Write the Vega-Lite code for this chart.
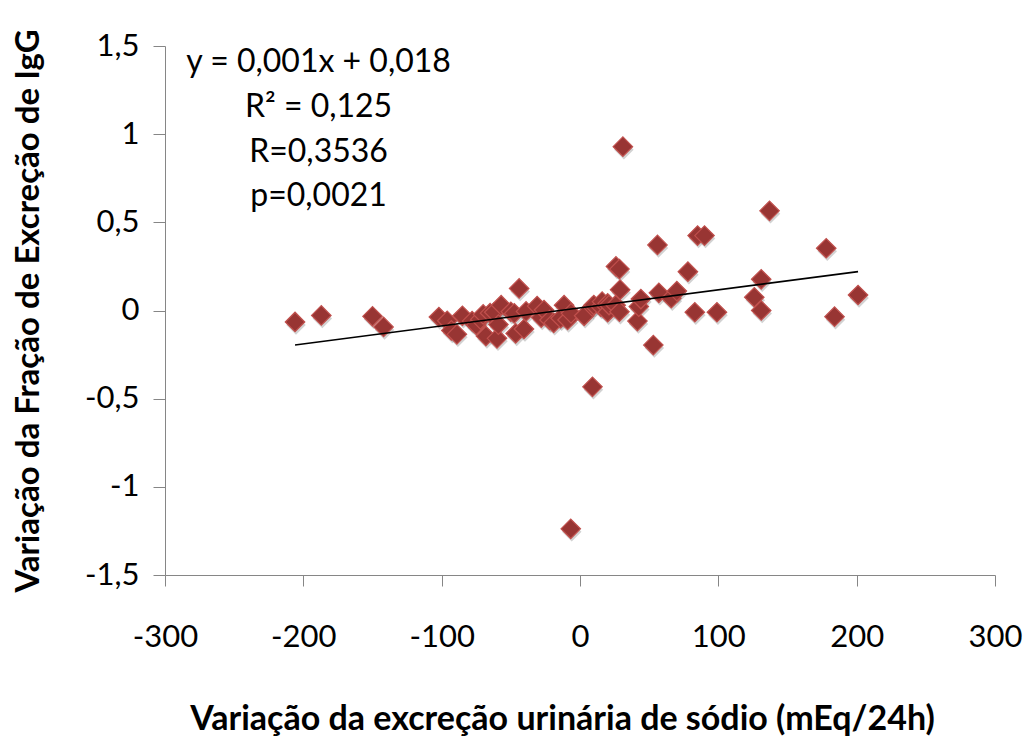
{
  "$schema": "https://vega.github.io/schema/vega-lite/v6.json",
  "width": 830,
  "height": 529,
  "autosize": {"type": "none"},
  "padding": {"left": 165, "top": 46, "right": 35, "bottom": 161},
  "background": "white",
  "config": {"view": {"stroke": null}, "font": "Lato"},
  "datasets": {
    "points": [
      {"x": -206, "y": -0.065}, {"x": -187, "y": -0.028}, {"x": -150, "y": -0.033}, {"x": -142, "y": -0.093},
      {"x": -102, "y": -0.037}, {"x": -96, "y": -0.058}, {"x": -93, "y": -0.113}, {"x": -89, "y": -0.135},
      {"x": -85, "y": -0.03}, {"x": -78, "y": -0.06}, {"x": -75, "y": -0.082}, {"x": -72, "y": -0.05},
      {"x": -70, "y": -0.022}, {"x": -68, "y": -0.145}, {"x": -65, "y": -0.015}, {"x": -62, "y": -0.01},
      {"x": -60, "y": -0.158}, {"x": -59, "y": -0.08}, {"x": -57, "y": 0.03}, {"x": -50, "y": -0.007},
      {"x": -47.5, "y": -0.016}, {"x": -46.5, "y": -0.13}, {"x": -44, "y": 0.125}, {"x": -40.5, "y": -0.105},
      {"x": -39, "y": -0.005}, {"x": -31, "y": 0.025}, {"x": -28, "y": -0.04}, {"x": -26, "y": 0.003},
      {"x": -22, "y": -0.054}, {"x": -19, "y": -0.07}, {"x": -14, "y": -0.044}, {"x": -11.5, "y": 0.03},
      {"x": -9, "y": -0.054}, {"x": -6.7, "y": -1.238}, {"x": -6.5, "y": -0.016}, {"x": 3, "y": -0.03},
      {"x": 9, "y": -0.433}, {"x": 9, "y": 0.022}, {"x": 10, "y": 0.031}, {"x": 15, "y": 0.022},
      {"x": 16, "y": 0.05}, {"x": 20, "y": -0.01}, {"x": 20, "y": 0.04}, {"x": 21, "y": 0.031},
      {"x": 25.8, "y": 0.03}, {"x": 26, "y": 0.25}, {"x": 28.5, "y": 0.235}, {"x": 28.5, "y": -0.007},
      {"x": 29, "y": 0.118}, {"x": 31, "y": 0.929}, {"x": 41.5, "y": -0.06}, {"x": 42.5, "y": 0.022},
      {"x": 44, "y": 0.065}, {"x": 53, "y": -0.196}, {"x": 56, "y": 0.372}, {"x": 57, "y": 0.1},
      {"x": 66, "y": 0.07}, {"x": 70, "y": 0.11}, {"x": 78, "y": 0.22}, {"x": 83, "y": -0.01},
      {"x": 85, "y": 0.425}, {"x": 90, "y": 0.425}, {"x": 99, "y": -0.01}, {"x": 126, "y": 0.075},
      {"x": 131, "y": 0.177}, {"x": 131, "y": 0.0}, {"x": 137, "y": 0.565}, {"x": 178, "y": 0.353},
      {"x": 184, "y": -0.035}, {"x": 201, "y": 0.088}
    ],
    "trend": [
      {"x": -206, "y": -0.196},
      {"x": 201, "y": 0.2205}
    ]
  },
  "layer": [
    {
      "data": {"name": "points"},
      "mark": {"type": "point", "shape": "diamond", "filled": true, "size": 380, "color": "#7f7f7f", "opacity": 0.35, "xOffset": 1, "yOffset": 3},
      "encoding": {
        "x": {"field": "x", "type": "quantitative", "scale": {"domain": [-300, 300], "nice": false, "zero": false},
          "axis": {
            "values": [-300, -200, -100, 0, 100, 200, 300],
            "labelExpr": "toString(datum.value)",
            "labelFlush": false,
            "labelOverlap": false,
            "grid": false,
            "domainColor": "#868686", "tickColor": "#868686", "tickSize": 11,
            "labelFont": "Lato", "labelFontSize": 31, "labelColor": "#000000", "labelPadding": 36,
            "title": "Variação da excreção urinária de sódio (mEq/24h)",
            "titleFont": "Lato", "titleFontSize": 34, "titleFontWeight": "bold", "titleColor": "#000000",
            "titleX": 397, "titleY": 154, "titleBaseline": "alphabetic", "titleAlign": "center"
          }},
        "y": {"field": "y", "type": "quantitative", "scale": {"domain": [-1.5, 1.5], "nice": false, "zero": false},
          "axis": {
            "values": [-1.5, -1, -0.5, 0, 0.5, 1, 1.5],
            "labelExpr": "replace(toString(datum.value), '.', ',')",
            "labelFlush": false,
            "labelOverlap": false,
            "grid": false,
            "domainColor": "#868686", "tickColor": "#868686", "tickSize": 12,
            "labelFont": "Lato", "labelFontSize": 31, "labelColor": "#000000", "labelPadding": 14,
            "title": "Variação da Fração de Excreção de IgG",
            "titleFont": "Lato", "titleFontSize": 33, "titleFontWeight": "bold", "titleColor": "#000000",
            "titleX": -137, "titleY": 264.5, "titleAngle": 270, "titleBaseline": "middle", "titleAlign": "center"
          }}
      }
    },
    {
      "data": {"name": "points"},
      "mark": {"type": "point", "shape": "diamond", "filled": true, "size": 380, "fill": "#983533", "stroke": "#c0504d", "strokeWidth": 1.2, "opacity": 1},
      "encoding": {
        "x": {"field": "x", "type": "quantitative"},
        "y": {"field": "y", "type": "quantitative"}
      }
    },
    {
      "data": {"name": "trend"},
      "mark": {"type": "line", "color": "#000000", "strokeWidth": 1.6},
      "encoding": {
        "x": {"field": "x", "type": "quantitative"},
        "y": {"field": "y", "type": "quantitative"}
      }
    },
    {
      "data": {"values": [{}]},
      "mark": {"type": "text", "font": "Lato", "fontSize": 32, "color": "#000000", "align": "center", "baseline": "alphabetic", "lineHeight": 44.7},
      "encoding": {
        "x": {"datum": -189},
        "y": {"datum": 1.351},
        "text": {"value": ["y = 0,001x + 0,018", "R² = 0,125", "R=0,3536", "p=0,0021"]}
      }
    }
  ]
}
